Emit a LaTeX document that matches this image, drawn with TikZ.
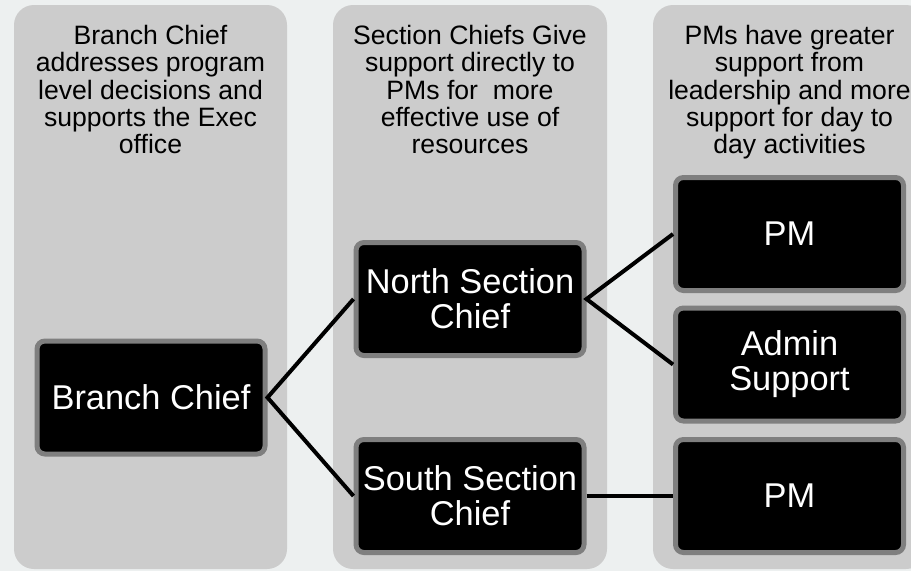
\documentclass[tikz,border=0pt]{standalone}
\usepackage{fontspec}
\setmainfont{Liberation Sans}
\definecolor{bgc}{HTML}{EDF0F0}
\definecolor{colc}{HTML}{CCCCCC}
\definecolor{brd}{HTML}{7F7F7F}
\begin{document}
\begin{tikzpicture}[x=1pt,y=-1pt,
  column/.style={fill=colc, rounded corners=20pt},
  header/.style={anchor=north, align=center, inner sep=0pt, font=\fontsize{26.6}{27.3}\selectfont, text=black},
  box/.style={draw=brd, line width=5pt, fill=black, rounded corners=8pt, text=white, align=center,
    minimum width=228pt, minimum height=113pt, inner sep=0pt, font=\fontsize{34.4}{35}\selectfont},
  link/.style={draw=black, line width=4pt}]
\useasboundingbox (0,0) rectangle (911,571);
\fill[bgc] (0,0) rectangle (911,571);
\begin{scope}
\clip (0,0) rectangle (911,571);
\fill[column] (14,5) rectangle (287,569);
\fill[column] (333,5) rectangle (607,569);
\fill[column] (653,5) rectangle (926,569);
\end{scope}
\node[header] (h1) at (150.5,25) {Branch Chief\\addresses program\\level decisions and\\supports the Exec\\office};
\node[header] (h2) at (470,25) {Section Chiefs Give\\support directly to\\PMs for\ \ more\\effective use of\\resources};
\node[header] (h3) at (789.5,25) {PMs have greater\\support from\\leadership and more\\support for day to\\day activities};
\node[box] (bc) at (151,397.5) {Branch Chief};
\node[box] (nsc) at (470,299) {North Section\\Chief};
\node[box] (ssc) at (470,496) {South Section\\Chief};
\node[box] (pm1) at (789.5,234) {PM};
\node[box] (adm) at (789.5,364.5) {Admin\\Support};
\node[box] (pm2) at (789.5,496) {PM};
\draw[link] (nsc.west) -- (bc.east) -- (ssc.west);
\draw[link] (pm1.west) -- (nsc.east) -- (adm.west);
\draw[link] (ssc.east) -- (pm2.west);
\end{tikzpicture}
\end{document}
